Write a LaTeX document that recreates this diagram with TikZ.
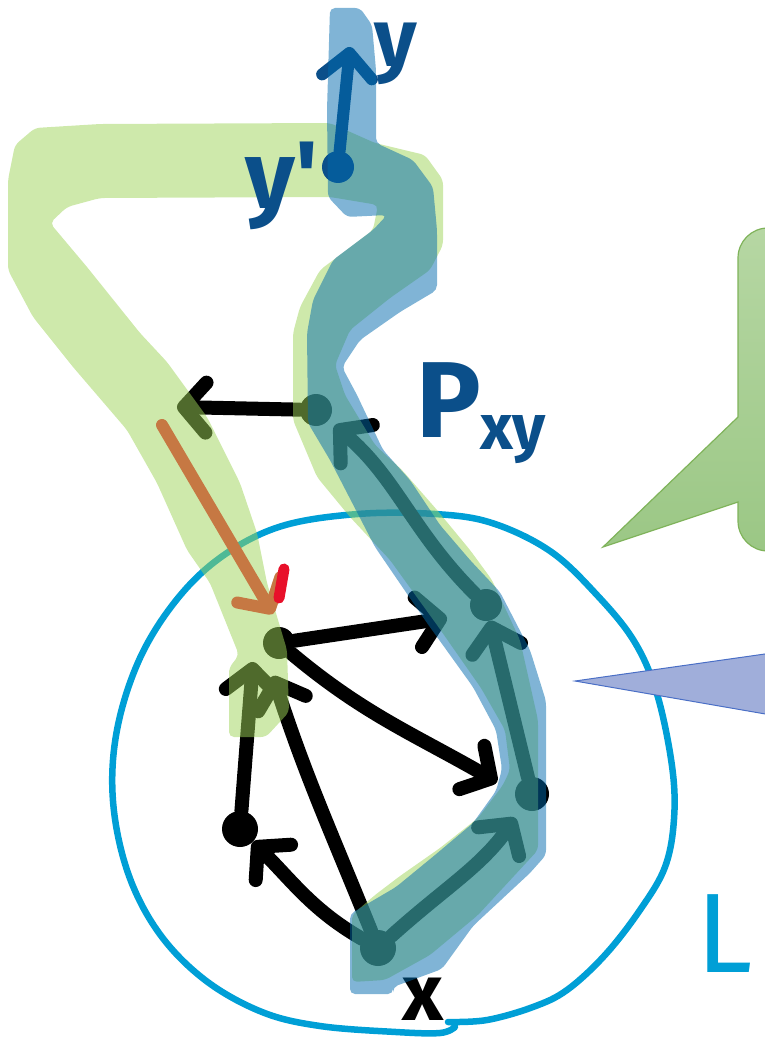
\documentclass[tikz,border=0pt]{standalone}
\usepackage{fontspec}
\newfontfamily\handfont{Fira Sans}
\usetikzlibrary{arrows.meta}
\definecolor{inkblue}{HTML}{0B4F8A}
\definecolor{bandgreen}{RGB}{158,212,88}
\definecolor{bandblue}{RGB}{1,106,173}
\definecolor{cyanline}{HTML}{009FD6}
\definecolor{penorange}{HTML}{C67843}
\definecolor{penred}{HTML}{E8102A}
\definecolor{cgtop}{HTML}{B6D7A3}
\definecolor{cgbot}{HTML}{9BC785}
\definecolor{cgline}{HTML}{7FB35A}
\definecolor{cbfill}{HTML}{A0AEDA}
\definecolor{cbline}{HTML}{4A6FC6}

\begin{document}
\begin{tikzpicture}[x=1pt, y=-1pt,
  ink/.style={line width=14pt, line cap=round, line join=round},
  barb/.style={-{Straight Barb[length=#1, width=50pt, round]}},
  barb/.default=22pt,
  dot/.style={circle, fill=black, inner sep=0pt, minimum size=34pt},
  band/.style={fill opacity=0.5, rounded corners=5pt},
  hand/.style={font=\handfont\bfseries\fontsize{#1}{#1}\selectfont, inner sep=0pt},
  hand/.default=80]
\useasboundingbox (0,0) rectangle (764,1040);

% the circle L
\draw[line width=6.5pt, cyanline, line cap=round] plot[smooth, tension=0.6] coordinates {
  (448,1022) (487,1020) (533,1007) (567,990) (605,955) (640,910) (665,867) (674,819)
  (672,766) (657,694) (634,641) (596,594) (550,551) (492,523) (435,514) (358,514)
  (282,526) (224,555) (178,598) (140,658) (117,730) (113,801) (128,873) (159,933)
  (205,980) (262,1012) (320,1026) (396,1032) (440,1033) (455,1027)};

% graph in black ink
\node[dot, minimum size=32pt] (np) at (316,410) {};
\node[dot, minimum size=32pt] (nv) at (279,643) {};
\node[dot, minimum size=32pt] (nq) at (486,605) {};
\node[dot] (nr) at (532,794) {};
\node[dot, minimum size=36pt] (nx) at (378,948) {};
\node[dot, minimum size=36pt] (nw) at (240,829) {};
\coordinate (nl) at (177,407);
\coordinate (a3) at (447,618);
\coordinate (a4) at (497,782);
\coordinate (a5) at (253,662);
\coordinate (a6) at (273,676);

\draw[ink, barb] (np) -- (nl);
\draw[ink, barb] (nv) -- (a3);
\draw[ink, barb] (nv) to[out=-40, in=150] (a4);
\draw[ink, barb] (nw) -- (a5);
\draw[ink, barb] (nx) to[out=112, in=-72] (a6);
\draw[ink, barb] (nx) to[out=150, in=-45] (nw);
\draw[ink, barb, shorten >=12pt] (nx) to[out=42, in=-125] (nr);
\draw[ink, barb] (nr) -- (nq);
\draw[ink, barb, shorten >=8pt] (nq) to[out=135, in=-40] (np);

\node[hand=80] (lx) at (423,999) {x};

% green band
\fill[bandgreen, band] (443,245) -- (430,270) -- (390,298) -- (350,330) -- (335,365)
  -- (345,395) -- (375,445) -- (402,470) -- (437,510) -- (470,550) -- (492,580)
  -- (520,640) -- (538,720) -- (538,850) -- (478,915) -- (430,955) -- (385,980)
  -- (352,982) -- (352,915) -- (375,895) -- (400,876) -- (440,848) -- (478,818)
  -- (503,785) -- (510,770) -- (505,730) -- (481,688) -- (437,625) -- (390,560)
  -- (350,517) -- (317,477) -- (293,420) -- (293,333) -- (300,307) -- (320,270)
  -- (373,230) -- (378,205) -- (330,197) -- (100,198) -- (67,207) -- (50,223)
  -- (87,267) -- (140,333) -- (167,362) -- (207,417) -- (240,483) -- (257,533)
  -- (267,583) -- (287,650) -- (289,712) -- (266,737) -- (229,737) -- (229,668)
  -- (239,655) -- (210,583) -- (187,550) -- (157,483) -- (127,430) -- (73,367)
  -- (33,317) -- (8,270) -- (8,180) -- (15,145) -- (35,128) -- (100,124)
  -- (330,123) -- (375,143) -- (425,155) -- (443,180) -- cycle;

% y' and y
\node[dot, fill=inkblue, minimum size=32pt] (ny) at (338,167) {};
\coordinate (yt) at (350,47);
\draw[ink, line width=12pt, inkblue, barb=24pt] (ny) -- (yt);
\node[hand=82, text=inkblue] (ly) at (396,54) {y};
\node[hand=96, text=inkblue] (lyp) at (282,186) {y'};

% blue band
\fill[bandblue, band] (330,8) -- (360,8) -- (372,25) -- (376,70) -- (376,143)
  -- (413,160) -- (433,187) -- (437,230) -- (437,290) -- (400,312) -- (360,340)
  -- (342,367) -- (357,395) -- (383,450) -- (410,480) -- (440,525) -- (470,560)
  -- (500,592) -- (530,650) -- (546,701) -- (546,855) -- (530,873) -- (473,926)
  -- (442,969) -- (393,987) -- (393,994) -- (350,994) -- (350,914) -- (396,887)
  -- (435,855) -- (473,823) -- (496,791) -- (502,769) -- (496,730) -- (473,687)
  -- (427,623) -- (375,547) -- (330,460) -- (308,423) -- (307,333) -- (313,300)
  -- (333,260) -- (373,230) -- (387,215) -- (347,217) -- (328,197) -- (327,110) -- cycle;

% orange and red strokes
\coordinate (no) at (162,425);
\coordinate (ot) at (273,614);
\draw[ink, line width=12pt, penorange, barb] (no) -- (ot);
\coordinate (ra) at (284,569);
\coordinate (rb) at (279,598);
\draw[ink, line width=11pt, penred] (ra) -- (rb);

\node[hand=108, text=inkblue, anchor=base west] (lp) at (416,437)
  {P\kern-1pt\raisebox{-12pt}{\fontsize{64}{64}\selectfont xy}};
\node[font=\handfont\fontsize{113}{113}\selectfont, inner sep=0pt, text=cyanline] (lL) at (725,934) {L};

% callouts
\draw[top color=cgtop, bottom color=cgbot, draw=cgline, line width=1.2pt]
  (800,228) {[rounded corners=30pt] -- (738,228) -- (738,330)} -- (738,417)
  -- (603,547) -- (738,502) {[rounded corners=30pt] -- (738,551) -- (800,551)} -- cycle;
\draw[fill=cbfill, draw=cbline, line width=1pt] (800,649) -- (575,681) -- (800,720);
\end{tikzpicture}
\end{document}
